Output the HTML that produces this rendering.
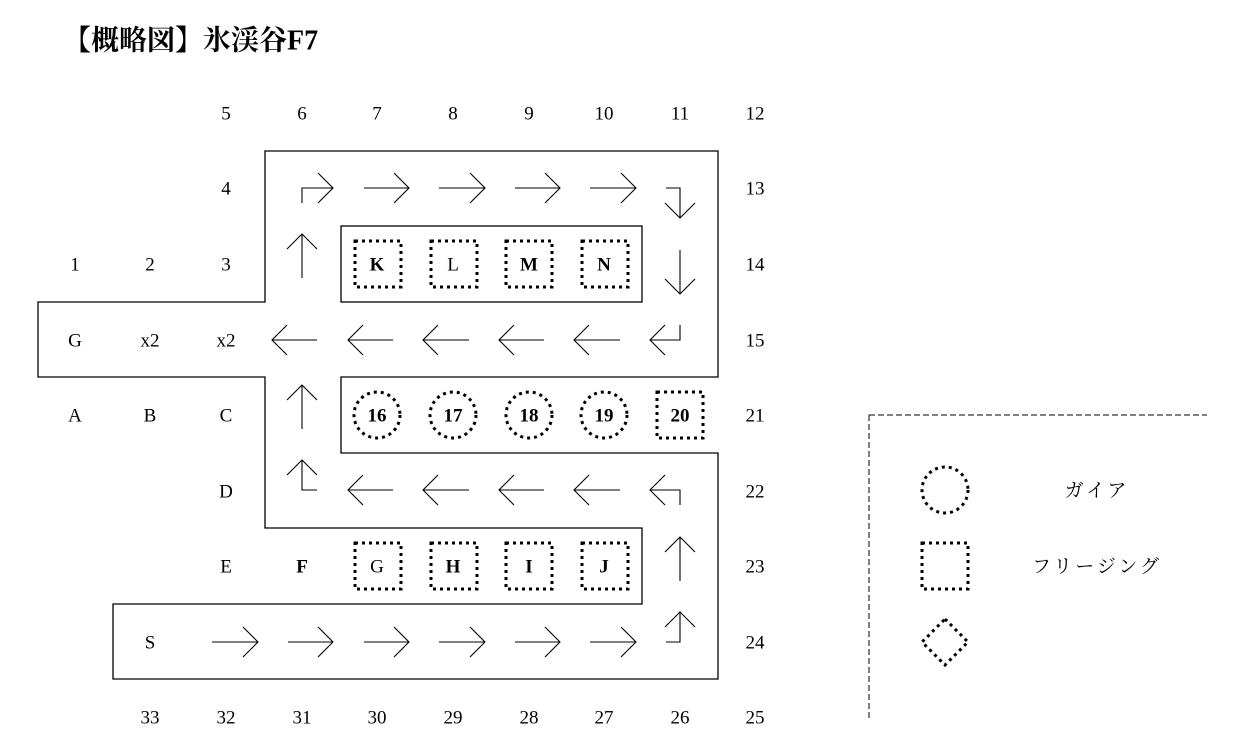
<!DOCTYPE html>
<html><head><meta charset="utf-8"><style>
html,body{margin:0;padding:0;background:#fff;}
svg{display:block;}
text{font-family:"Liberation Serif","Noto Serif CJK JP",serif;font-size:19px;fill:#000;text-anchor:middle;dominant-baseline:central;}
.b{font-weight:bold;}
.j{font-family:"Liberation Serif","Noto Serif CJK JP",serif;font-size:19px;letter-spacing:3px;}
</style></head><body>
<svg width="1247" height="755" viewBox="0 0 1247 755" xmlns="http://www.w3.org/2000/svg">
<g transform="translate(0,1)">
<text x="63" y="40" style="text-anchor:start;font-size:28px;font-weight:bold">【概略図】氷渓谷F7</text>

<text x="226" y="113">5</text><text x="302" y="113">6</text><text x="377" y="113">7</text><text x="453" y="113">8</text><text x="529" y="113">9</text><text x="604" y="113">10</text><text x="680" y="113">11</text><text x="755" y="113">12</text>
<text x="226" y="188">4</text><text x="755" y="188">13</text>
<text x="75" y="264">1</text><text x="150" y="264">2</text><text x="226" y="264">3</text><text x="755" y="264">14</text>
<text x="75" y="340">G</text><text x="150" y="340">x2</text><text x="226" y="340">x2</text><text x="755" y="340">15</text>
<text x="75" y="415">A</text><text x="150" y="415">B</text><text x="226" y="415">C</text><text x="755" y="415">21</text>
<text x="226" y="491">D</text><text x="755" y="491">22</text>
<text x="226" y="566">E</text><text x="302" y="566" class="b">F</text><text x="755" y="566">23</text>
<text x="150" y="642">S</text><text x="755" y="642">24</text>
<text x="150" y="717">33</text><text x="226" y="717">32</text><text x="302" y="717">31</text><text x="377" y="717">30</text><text x="453" y="717">29</text><text x="529" y="717">28</text><text x="604" y="717">27</text><text x="680" y="717">26</text><text x="755" y="717">25</text>

<text x="377" y="264" class="b">K</text><text x="453" y="264">L</text><text x="529" y="264" class="b">M</text><text x="604" y="264" class="b">N</text>
<text x="377" y="566">G</text><text x="453" y="566" class="b">H</text><text x="529" y="566" class="b">I</text><text x="604" y="566" class="b">J</text>
<text x="377" y="415" class="b">16</text><text x="453" y="415" class="b">17</text><text x="529" y="415" class="b">18</text><text x="604" y="415" class="b">19</text><text x="680" y="415" class="b">20</text>
<text x="1097" y="490" class="j">ガイア</text>
<text x="1097" y="566" class="j">フリージング</text>
</g>

<g fill="none" stroke="#000" stroke-width="1.3">
<polygon points="265,151 718,151 718,377 341,377 341,453 718,453 718,679 113,679 113,604 642,604 642,528 265,528 265,377 38,377 38,302 265,302"/>
<rect x="341" y="226" width="301" height="76"/>
</g>

<g fill="none" stroke="#000" stroke-width="1.1">
<polyline points="302,203 302,188 333,188"/><polyline points="318,173 333,188 318,203"/>
<line x1="364" y1="188" x2="409" y2="188"/><polyline points="394,173 409,188 394,203"/>
<line x1="439" y1="188" x2="485" y2="188"/><polyline points="470,173 485,188 470,203"/>
<line x1="515" y1="188" x2="560" y2="188"/><polyline points="545,173 560,188 545,203"/>
<line x1="590" y1="188" x2="636" y2="188"/><polyline points="621,173 636,188 621,203"/>
<polyline points="666,188 680,188 680,218"/><polyline points="665,203 680,218 695,203"/>
<line x1="680" y1="250" x2="680" y2="294"/><polyline points="665,279 680,294 695,279"/>
<line x1="302" y1="234" x2="302" y2="278"/><polyline points="287,249 302,234 317,249"/>
<polyline points="680,325 680,340 650,340"/><polyline points="665,325 650,340 665,355"/>
<line x1="574" y1="340" x2="620" y2="340"/><polyline points="589,325 574,340 589,355"/>
<line x1="499" y1="340" x2="544" y2="340"/><polyline points="514,325 499,340 514,355"/>
<line x1="423" y1="340" x2="469" y2="340"/><polyline points="438,325 423,340 438,355"/>
<line x1="348" y1="340" x2="393" y2="340"/><polyline points="363,325 348,340 363,355"/>
<line x1="272" y1="340" x2="317" y2="340"/><polyline points="287,325 272,340 287,355"/>
<line x1="302" y1="385" x2="302" y2="429"/><polyline points="287,400 302,385 317,400"/>
<polyline points="317,490 302,490 302,460"/><polyline points="287,475 302,460 317,475"/>
<line x1="348" y1="490" x2="393" y2="490"/><polyline points="363,475 348,490 363,505"/>
<line x1="423" y1="490" x2="469" y2="490"/><polyline points="438,475 423,490 438,505"/>
<line x1="499" y1="490" x2="544" y2="490"/><polyline points="514,475 499,490 514,505"/>
<line x1="574" y1="490" x2="620" y2="490"/><polyline points="589,475 574,490 589,505"/>
<polyline points="680,505 680,490 650,490"/><polyline points="665,475 650,490 665,505"/>
<line x1="680" y1="537" x2="680" y2="581"/><polyline points="665,552 680,537 695,552"/>
<polyline points="666,642 680,642 680,612"/><polyline points="665,627 680,612 695,627"/>
<line x1="212" y1="642" x2="258" y2="642"/><polyline points="243,627 258,642 243,657"/>
<line x1="288" y1="642" x2="333" y2="642"/><polyline points="318,627 333,642 318,657"/>
<line x1="364" y1="642" x2="409" y2="642"/><polyline points="394,627 409,642 394,657"/>
<line x1="439" y1="642" x2="485" y2="642"/><polyline points="470,627 485,642 470,657"/>
<line x1="515" y1="642" x2="560" y2="642"/><polyline points="545,627 560,642 545,657"/>
<line x1="590" y1="642" x2="636" y2="642"/><polyline points="621,627 636,642 621,657"/>
</g>

<g fill="none" stroke="#000" stroke-width="3" stroke-dasharray="3,4">
<rect x="355" y="241" width="46" height="46"/><rect x="431" y="241" width="46" height="46"/><rect x="506" y="241" width="46" height="46"/><rect x="582" y="241" width="46" height="46"/>
<rect x="355" y="543" width="46" height="46"/><rect x="431" y="543" width="46" height="46"/><rect x="506" y="543" width="46" height="46"/><rect x="582" y="543" width="46" height="46"/>
<rect x="657" y="392" width="46" height="46"/>
<circle cx="377" cy="415" r="23"/><circle cx="453" cy="415" r="23"/><circle cx="529" cy="415" r="23"/><circle cx="604" cy="415" r="23"/>
<circle cx="945" cy="490" r="23"/>
<rect x="922" y="543" width="46" height="46"/>
<polygon points="945,619 968,642 945,665 922,642"/>
</g>

<g fill="none" stroke="#000" stroke-width="1" stroke-dasharray="6,3">
<line x1="869" y1="415" x2="1207" y2="415"/><line x1="869" y1="415" x2="869" y2="718"/>
</g>
</svg>
</body></html>
